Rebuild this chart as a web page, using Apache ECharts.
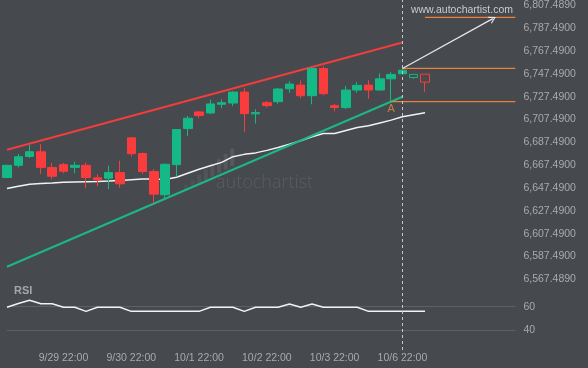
<!DOCTYPE html>
<html>
<head>
<meta charset="utf-8">
<script src="https://cdn.jsdelivr.net/npm/echarts@6/dist/echarts.min.js"></script>
<style>html,body{margin:0;padding:0;background:#46494e;}#c{width:588px;height:368px;}</style>
</head>
<body>
<div id="c"></div>
<script>
// ---- data ----
const days = ['9/29','9/30','10/1','10/2','10/3','10/6','10/7','10/8'];
const hours = ['02:00','06:00','10:00','14:00','18:00','22:00'];
const openV  = [6656.7,6667.4,6675.2,6679.3,6665.4,6668.0,6665.6,6667.4,6656.4,6656.1,6661.0,6691.5,6677.8,6661.9,6641.6,6668.0,6699.6,6714.2,6713.3,6720.9,6722.0,6731.6,6712.5,6722.3,6723.2,6734.5,6737.7,6728.4,6752.3,6719.7,6718.0,6733.4,6737.7,6733.4,6743.2,6747.6,6744.4,6747.3];
const closeV = [6667.4,6674.9,6679.3,6665.6,6657.8,6662.2,6667.4,6656.7,6654.6,6661.0,6651.2,6677.6,6661.9,6642.1,6668.3,6698.8,6708.7,6711.0,6721.2,6722.3,6731.6,6712.7,6713.6,6719.7,6734.3,6738.6,6728.4,6752.3,6730.2,6718.0,6733.4,6737.5,6733.4,6743.2,6747.1,6750.8,6747.1,6740.3];
const lowV   = [6656.2,6665.6,6673.8,6659.9,6655.2,6660.4,6660.4,6647.3,6649.1,6646.5,6647.7,6675.2,6659.9,6634.3,6638.6,6657.5,6693.0,6708.7,6712.2,6717.4,6719.2,6696.5,6704.0,6718.0,6721.4,6731.0,6726.1,6720.9,6728.8,6714.8,6716.6,6731.0,6725.8,6733.0,6723.2,6747.3,6743.2,6731.9];
const highV  = [6667.8,6677.3,6685.4,6686.0,6669.5,6669.5,6670.6,6669.7,6659.5,6667.1,6671.5,6692.0,6678.7,6664.2,6669.1,6699.3,6710.7,6715.1,6724.9,6725.2,6732.5,6735.4,6716.6,6723.8,6735.4,6741.2,6741.8,6753.2,6754.3,6721.4,6736.9,6740.4,6742.1,6747.9,6749.1,6751.7,6747.1,6747.3];
const maV = [6647,6649,6650.8,6651.5,6652,6652.6,6652.8,6653,6653.2,6653.6,6654.2,6654.8,6655.3,6655.4,6655,6657,6660.5,6664,6667,6670,6675,6677,6678.3,6680.5,6683,6686,6689,6692.5,6695.3,6695.3,6698,6700.5,6702,6704.5,6707,6710,6711.7,6713.4];
const rsiV = [59.5,62.7,65.5,62.6,62.6,59.5,59.5,56,59.5,59.5,59.5,56,56,56,56,56,56,56,59.5,59.5,59.5,56,59.5,59.5,59.5,62.3,59.5,62.3,59.5,59.5,59.5,59.5,56,56,56,56,56,56];
const forecastFrom = 36;                       // candles after the pattern end are drawn hollow
const resistanceLine = [[0, 6681.1], [35, 6775.0]];
const supportLine    = [[0, 6578.5], [35, 6727.5]];
const upperLevel  = [[35, 6752.3], [45, 6752.3]];
const lowerLevel  = [[34, 6723.2], [45, 6723.2]];
const targetLevel = [[37, 6797.0], [45, 6797.0]];
const arrowFrom = [35, 6752.3], arrowTo = [43, 6796.0];
const pointA = [34, 6716.5];
const priceMin = 6567.489, priceMax = 6807.489, priceStep = 20;
const rsiTicks = [40, 60];
const patternEnd = 35;
const nCats = 46;

// ---- build ----
const categories = [];
days.forEach(d => hours.forEach(h => categories.push(d + ' ' + h)));
categories.length = nCats;

const GREEN = '#14b985', RED = '#fb3c3c', ORANGE = '#ef7f3a';
const candleData = openV.map((o, i) => {
  const item = { value: [o, closeV[i], lowV[i], highV[i]] };
  if (i >= forecastFrom) {
    const c = closeV[i] >= o ? GREEN : RED;
    item.itemStyle = { color: 'transparent', color0: 'transparent', borderColor: c, borderColor0: c, borderColorDoji: c };
  }
  return item;
});

function fmt(v) {
  const s = v.toFixed(4).split('.');
  return s[0].replace(/\B(?=(\d{3})+(?!\d))/g, ',') + '.' + s[1];
}
const labelStyle = { color: '#a7aaae', fontSize: 10.5, fontFamily: 'Liberation Sans' };
const gridL = 7, gridR = 72.6;
const chevron = 'path://M0,10 L5,0 L10,10 L8.4,10 L5,3.2 L1.6,10 Z';

const chart = echarts.init(document.getElementById('c'), null, { renderer: 'canvas' });
chart.setOption({
  backgroundColor: '#46494e',
  animation: false,
  grid: [
    { left: gridL, right: gridR, top: 4, height: 275.3 },
    { left: gridL, right: gridR, top: 306.7, height: 23.3 },
    { left: gridL, right: gridR, top: 0, bottom: 18 }
  ],
  xAxis: [0, 1, 2].map(g => ({
    type: 'category', gridIndex: g, data: categories, boundaryGap: false,
    axisLine: { show: false }, axisTick: { show: false }, splitLine: { show: false },
    axisLabel: g === 2 ? Object.assign({
      margin: 3,
      interval: (idx) => idx % 6 === 5 && idx <= patternEnd
    }, labelStyle) : { show: false }
  })),
  yAxis: [
    { type: 'value', gridIndex: 0, position: 'right', min: priceMin, max: priceMax, interval: priceStep,
      axisLine: { show: false }, axisTick: { show: false }, splitLine: { show: false },
      axisLabel: Object.assign({ margin: 8, align: 'left', formatter: fmt }, labelStyle) },
    { type: 'value', gridIndex: 1, position: 'right', min: rsiTicks[0], max: rsiTicks[1], interval: 20,
      axisLine: { show: false }, axisTick: { show: false },
      splitLine: { show: true, lineStyle: { color: '#5d6065', width: 1 } },
      axisLabel: Object.assign({ margin: 8, align: 'left' }, labelStyle) },
    { type: 'value', gridIndex: 2, min: 0, max: 1, show: false }
  ],
  graphic: [
    { type: 'group', silent: true, z: 0, children: [0,1,2,3,4,5,6,7].map(k => ({
        type: 'rect', shape: { x: 184 + k * 6.6, y: 191 - k * 3.6 - (6 + k * 1.6), width: 4, height: 6 + k * 1.6 },
        style: { fill: 'rgba(255,255,255,' + (0.04 + k * 0.008) + ')' } })) },
    { type: 'text', left: 216, top: 174, silent: true, z: 0,
      style: { text: 'autochartist', fill: 'rgba(255,255,255,0.1)', font: '300 18px "Open Sans"' } },
    { type: 'text', right: 75, top: 5, silent: true,
      style: { text: 'www.autochartist.com', fill: '#c9cbce', font: '10.5px "Liberation Sans"' } },
    { type: 'text', left: 14, top: 285, silent: true,
      style: { text: 'RSI', fill: '#a3a6ab', font: 'bold 11px "Liberation Sans"' } }
  ],
  series: [
    { type: 'line', xAxisIndex: 0, yAxisIndex: 0, data: maV, symbol: 'none', z: 2,
      lineStyle: { color: '#f2f2f2', width: 1.5 } },
    { type: 'line', xAxisIndex: 0, yAxisIndex: 0, data: resistanceLine, symbol: 'none', z: 3,
      lineStyle: { color: '#f23d3d', width: 2 } },
    { type: 'line', xAxisIndex: 0, yAxisIndex: 0, data: supportLine, symbol: 'none', z: 3,
      lineStyle: { color: '#1bb886', width: 2 } },
    { type: 'candlestick', xAxisIndex: 0, yAxisIndex: 0, data: candleData, barWidth: 9, z: 4,
      itemStyle: { color: GREEN, color0: RED, borderColor: GREEN, borderColor0: RED, borderWidth: 1 } },
    { type: 'line', xAxisIndex: 0, yAxisIndex: 0, data: upperLevel, symbol: 'none', z: 3,
      lineStyle: { color: ORANGE, width: 1.3 },
      markLine: { silent: true, symbol: ['none', chevron], symbolSize: [8, 7], label: { show: false },
        lineStyle: { color: '#e8e8e8', width: 1.2, type: 'solid' },
        data: [[{ coord: arrowFrom }, { coord: arrowTo }]] } },
    { type: 'line', xAxisIndex: 0, yAxisIndex: 0, data: lowerLevel, symbol: 'none', z: 3,
      lineStyle: { color: ORANGE, width: 1.3 } },
    { type: 'line', xAxisIndex: 0, yAxisIndex: 0, data: targetLevel, symbol: 'none', z: 3,
      lineStyle: { color: ORANGE, width: 1.3 } },
    { type: 'scatter', xAxisIndex: 0, yAxisIndex: 0, data: [pointA], symbolSize: 0, z: 5,
      label: { show: true, formatter: 'A', position: 'inside', color: '#ea8a45', fontSize: 11, fontFamily: 'Liberation Sans' } },
    { type: 'line', xAxisIndex: 1, yAxisIndex: 1, data: rsiV, symbol: 'none', clip: false,
      lineStyle: { color: '#f2f2f2', width: 1.5 } },
    { type: 'line', xAxisIndex: 2, yAxisIndex: 2, data: [], symbol: 'none',
      markLine: { silent: true, symbol: 'none', label: { show: false },
        lineStyle: { color: '#c6c8cb', width: 1, type: [3, 3] },
        data: [{ xAxis: categories[patternEnd] }] } }
  ]
});
</script>
</body>
</html>
